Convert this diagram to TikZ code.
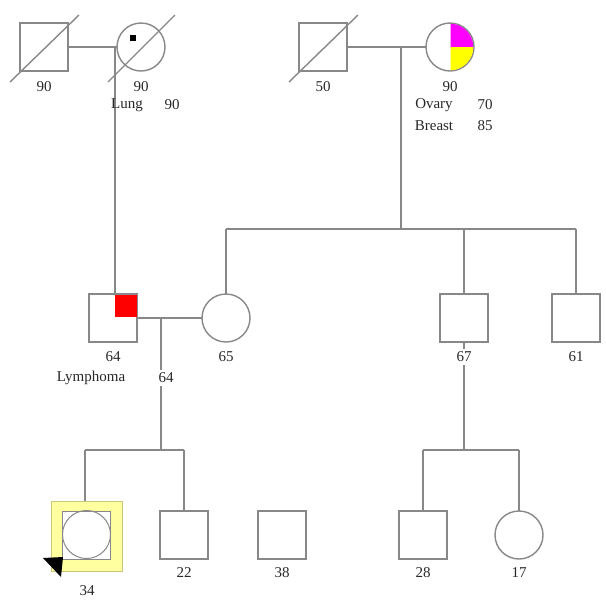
\documentclass[tikz,border=0pt]{standalone}
\usepackage{fontspec}
\setmainfont{Liberation Serif}
\definecolor{lc}{RGB}{136,136,136}
\definecolor{tc}{RGB}{40,40,40}
\definecolor{pby}{RGB}{255,255,160}
\definecolor{pbe}{RGB}{200,200,120}
\definecolor{mag}{RGB}{255,0,255}
\definecolor{yel}{RGB}{255,255,0}
\definecolor{rd}{RGB}{255,0,0}
\begin{document}
\begin{tikzpicture}[x=1pt,y=-1pt,
  ln/.style={draw=lc, line width=1.4pt},
  male/.style={draw=lc, line width=1.4pt, rectangle, minimum size=48pt, inner sep=0pt, outer sep=0pt},
  female/.style={draw=lc, line width=1.4pt, circle, minimum size=48pt, inner sep=0pt, outer sep=0pt},
  lbl/.style={font=\fontsize{15}{17}\selectfont, text=tc, inner sep=1pt},
  wlbl/.style={lbl, fill=white, inner sep=2.5pt},
  dead/.style={draw=lc, line width=1.4pt}
]
\useasboundingbox (0,0) rectangle (606,606);
\fill[white] (0,0) rectangle (606,606);

% generation 1
\node[male] (A) at (44,47) {};
\node[female] (B) at (141,47) {};
\node[male] (C) at (323,47) {};
\node[female] (D) at (450,47) {};
% generation 2
\node[male] (E) at (113,318) {};
\node[female] (W) at (226,318) {};
\node[male] (F) at (464,318) {};
\node[male] (G) at (576,318) {};
% generation 3
\node[draw=pbe, line width=0.6pt, fill=pby, rectangle, minimum width=71pt, minimum height=70pt, inner sep=0pt] (pb) at (86.5,536) {};
\node[male, fill=white, line width=1pt] (pin) at (86.5,535) {};
\node[female, line width=1pt] (P) at (86.5,534.5) {};
\node[male] (H) at (184,535) {};
\node[male] (I) at (282,535) {};
\node[male] (J) at (423,535) {};
\node[female] (K) at (519,535) {};

% connection coordinates
\coordinate (m1) at (115,47);
\coordinate (m2) at (401,47);
\coordinate (m3) at (161,318);
\coordinate (sib1) at (401,229);
\coordinate (sib2) at (161,450);
\coordinate (sib3) at (464,450);

% marriages and descent
\draw[ln] (A.east) -- (B.west);
\draw[ln] (m1) -- (m1 |- E.north);
\draw[ln] (C.east) -- (D.west);
\draw[ln] (m2) -- (sib1);
\draw[ln] (W.north |- sib1) -- (G.north |- sib1);
\draw[ln] (W.north |- sib1) -- (W.north);
\draw[ln] (F.north |- sib1) -- (F.north);
\draw[ln] (G.north |- sib1) -- (G.north);
\draw[ln] (E.east) -- (W.west);
\draw[ln] (m3) -- (sib2);
\draw[ln] (85,450) -- (H.north |- sib2);
\draw[ln] (85,450) -- (85,501);
\draw[ln] (H.north |- sib2) -- (H.north);
\draw[ln] (F.south) -- (sib3);
\draw[ln] (J.north |- sib3) -- (K.north |- sib3);
\draw[ln] (J.north |- sib3) -- (J.north);
\draw[ln] (K.north |- sib3) -- (K.north);

% affected fills
\fill[rd] (115,294.7) rectangle (137.3,317);
\begin{scope}
  \clip (450.5,20) rectangle (476,47);
  \fill[mag] (D.center) circle[radius=23.3];
\end{scope}
\begin{scope}
  \clip (450.5,47) rectangle (476,74);
  \fill[yel] (D.center) circle[radius=23.3];
\end{scope}
\fill[black] (130,35) rectangle (136,41);

% deceased slashes
\draw[dead] (10,82) -- (79,15);
\draw[dead] (108,82) -- (175,15);
\draw[dead] (289,82) -- (358,15);

% proband arrow
\fill[black] (43,558) -- (63,557) -- (61,577) -- cycle;

% labels
\node[lbl] (lA) at (44,87) {90};
\node[lbl] (lB) at (141,87) {90};
\node[lbl] (lB1) at (127,105) {Lung};
\node[lbl] (lB2) at (172,105) {90};
\node[lbl] (lC) at (323,87) {50};
\node[lbl] (lD) at (450,87) {90};
\node[lbl] (lD1) at (434,105) {Ovary};
\node[lbl] (lD2) at (485,105) {70};
\node[lbl] (lD3) at (434,126) {Breast};
\node[lbl] (lD4) at (485,126) {85};
\node[lbl] (lE) at (113,357) {64};
\node[lbl] (lE1) at (91,378) {Lymphoma};
\node[wlbl] (lE2) at (166,378) {64};
\node[lbl] (lW) at (226,357) {65};
\node[wlbl] (lF) at (464,357) {67};
\node[lbl] (lG) at (576,357) {61};
\node[lbl] (lP) at (87,591) {34};
\node[lbl] (lH) at (184,573) {22};
\node[lbl] (lI) at (282,573) {38};
\node[lbl] (lJ) at (423,573) {28};
\node[lbl] (lK) at (519,573) {17};
\end{tikzpicture}
\end{document}
